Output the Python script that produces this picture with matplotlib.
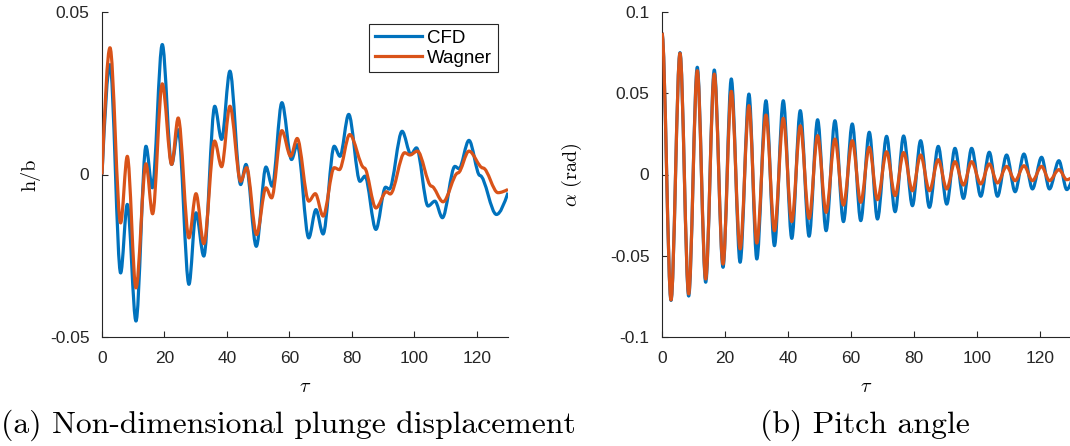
import matplotlib
matplotlib.use("Agg")
import matplotlib.pyplot as plt
from matplotlib.path import Path
from matplotlib.patches import PathPatch
from matplotlib.lines import Line2D

# MATLAB default colours
CFD_COLOR = "#0072BD"
WAGNER_COLOR = "#D95319"
AX_COLOR = "#262626"

# (a) plunge h/b: local extrema / shoulders
h_cfd_tau = [0, 2.56, 5.97, 8.1, 10.88, 14.08, 16.1, 19.3, 22.3, 24.4, 27.84, 30.1,
             32.6, 36.1, 38.3, 40.96, 44.4, 46.1, 49.4, 52.5, 54.5, 57.6, 60.7, 62.5,
             66.2, 68.5, 70.8, 74.35, 76.2, 79.0, 82.6, 84.2, 87.7, 90.8, 92.0, 96.1,
             98.9, 100.7, 104.4, 106.6, 109.0, 113.0, 114.3, 117.5, 121.0, 126.3, 130]
h_cfd = [0, 0.0338, -0.0303, -0.0092, -0.0451, 0.0087, -0.0041, 0.0400, 0.0031, 0.0138,
         -0.0338, -0.0118, -0.0251, 0.0210, 0.0108, 0.0318, -0.0031, 0.0031, -0.0221,
         0.0023, -0.0036, 0.0221, 0.0046, 0.0092, -0.0195, -0.0108, -0.0183, 0.0087,
         0.0056, 0.0185, -0.0021, -0.0005, -0.0169, -0.0039, -0.0045, 0.0133, 0.0062,
         0.0082, -0.0097, -0.0082, -0.0133, 0.0025, 0.0018, 0.0105, -0.0003, -0.0123,
         -0.0056]

h_wag_tau = [0, 2.56, 5.97, 8.1, 10.88, 14.08, 16.2, 19.3, 22.3, 24.4, 27.84, 30.1,
             32.6, 36.05, 38.3, 40.96, 44.4, 46.3, 49.5, 52.5, 54.3, 57.6, 60.4, 62.5,
             66.2, 68.3, 70.8, 74.35, 76.0, 79.3, 84.0, 87.7, 91.1, 92.3, 96.9, 98.6,
             101.0, 105.5, 109.2, 114.0, 117.5, 122.0, 126.8, 130]
h_wag = [0, 0.0390, -0.0149, 0.0056, -0.0349, 0.0033, -0.0121, 0.0279, 0.0031, 0.0174,
         -0.0195, -0.0059, -0.0213, 0.0103, 0.0024, 0.0210, -0.0021, 0.0021, -0.0185,
         -0.0041, -0.0072, 0.0135, 0.0056, 0.0111, -0.0082, -0.0059, -0.0128, 0.0021,
         0.0015, 0.0123, 0.0020, -0.0103, -0.0053, -0.0060, 0.0067, 0.0060, 0.0072,
         -0.0036, -0.0084, 0.0005, 0.0072, 0.0020, -0.0056, -0.0046]

# (b) pitch alpha: peaks and troughs
a_tau = [0, 2.86, 5.71, 8.47, 11.2, 13.87, 16.6, 19.37, 22.0, 24.8, 27.6, 30.1, 33.0,
         35.7, 38.5, 41.2, 43.9, 46.7, 49.4, 52.1, 54.9, 57.6, 60.4, 63.1, 65.8, 68.4,
         71.3, 74.0, 76.7, 79.5, 82.1, 84.9, 87.7, 90.4, 93.0, 95.7, 98.3, 101.2,
         103.9, 106.5, 109.4, 112.1, 114.9, 117.6, 120.5, 123.0, 126.0, 128.5, 130]
a_cfd = [0.087, -0.0775, 0.075, -0.0748, 0.066, -0.0663, 0.0643, -0.0571, 0.0588,
         -0.054, 0.0495, -0.052, 0.0454, -0.0438, 0.0454, -0.0393, 0.0393, -0.038,
         0.0337, -0.0346, 0.0331, -0.029, 0.0311, -0.0284, 0.026, -0.0274, 0.0235,
         -0.0229, 0.0237, -0.0192, 0.0208, -0.0202, 0.0173, -0.0182, 0.0161, -0.0147,
         0.0161, -0.0134, 0.0137, -0.0134, 0.012, -0.0106, 0.0126, -0.0089, 0.0106,
         -0.0089, 0.0085, -0.0093, -0.004]
a_wag = [0.087, -0.0772, 0.0746, -0.0735, 0.0639, -0.0643, 0.0618, -0.0551, 0.0512,
         -0.0458, 0.0424, -0.0422, 0.0366, -0.0346, 0.0346, -0.029, 0.030, -0.027,
         0.0239, -0.0233, 0.0218, -0.0188, 0.0208, -0.0171, 0.0167, -0.0155, 0.014,
         -0.013, 0.0135, -0.010, 0.012, -0.010, 0.0091, -0.0089, 0.0079, -0.0065,
         0.0079, -0.0058, 0.0065, -0.0052, 0.005, -0.0038, 0.0054, -0.0038, 0.005,
         -0.0038, 0.003, -0.0032, -0.002]

x_ticks = [0, 20, 40, 60, 80, 100, 120]
h_ticks = [-0.05, 0, 0.05]
h_tick_labels = ["-0.05", "0", "0.05"]
a_ticks = [-0.1, -0.05, 0, 0.05, 0.1]
a_tick_labels = ["-0.1", "-0.05", "0", "0.05", "0.1"]


def smooth_path(t, v, free_start=True, free_end=True):
    # cubic segments with flat tangents at the read extrema
    verts = [(t[0], v[0])]
    codes = [Path.MOVETO]
    n = len(t)
    for i in range(n - 1):
        dt = t[i + 1] - t[i]
        dv = v[i + 1] - v[i]
        k1 = 0.5 if (i == 0 and free_start) else 0.0
        k2 = 0.5 if (i == n - 2 and free_end) else 0.0
        verts += [(t[i] + dt / 3, v[i] + k1 * dv),
                  (t[i + 1] - dt / 3, v[i + 1] - k2 * dv),
                  (t[i + 1], v[i + 1])]
        codes += [Path.CURVE4] * 3
    return Path(verts, codes)


def draw(ax, t, v, color, free_start, z):
    ax.add_patch(PathPatch(smooth_path(t, v, free_start), fill=False,
                           edgecolor=color, lw=2.3, joinstyle="round", zorder=z))


def style(ax):
    for s in ["top", "right"]:
        ax.spines[s].set_visible(False)
    for s in ["left", "bottom"]:
        ax.spines[s].set_color(AX_COLOR)
        ax.spines[s].set_linewidth(0.8)
    ax.tick_params(direction="in", length=4, width=0.8, colors=AX_COLOR,
                   labelsize=12.5)
    ax.tick_params(axis="y", pad=9)
    ax.tick_params(axis="x", pad=10)
    for lab in ax.get_xticklabels() + ax.get_yticklabels():
        lab.set_family("Liberation Sans")


plt.rcParams["mathtext.fontset"] = "cm"
fig = plt.figure(figsize=(10.7, 4.46), dpi=100)

ax1 = fig.add_axes([102 / 1070, 109 / 446, 406 / 1070, 325 / 446])
draw(ax1, h_cfd_tau, h_cfd, CFD_COLOR, True, 2)
draw(ax1, h_wag_tau, h_wag, WAGNER_COLOR, True, 3)
ax1.set_xlim(0, 130)
ax1.set_ylim(-0.05, 0.05)
ax1.set_xticks(x_ticks)
ax1.set_yticks(h_ticks)
ax1.set_yticklabels(h_tick_labels)
style(ax1)
handles = [Line2D([], [], color=CFD_COLOR, lw=2.3),
           Line2D([], [], color=WAGNER_COLOR, lw=2.3)]
leg = ax1.legend(handles, ["CFD", "Wagner"], loc="upper right",
                 bbox_to_anchor=(0.975, 0.963), borderaxespad=0, fancybox=False,
                 framealpha=1, edgecolor=AX_COLOR, handlelength=2.5,
                 handletextpad=0.3, borderpad=0.3, labelspacing=0.15,
                 prop={"family": "Liberation Sans", "size": 13.5})
leg.get_frame().set_linewidth(0.8)

ax2 = fig.add_axes([662 / 1070, 109 / 446, 409.5 / 1070, 325 / 446])
draw(ax2, a_tau, a_cfd, CFD_COLOR, False, 2)
draw(ax2, a_tau, a_wag, WAGNER_COLOR, False, 3)
ax2.set_xlim(0, 130)
ax2.set_ylim(-0.1, 0.1)
ax2.set_xticks(x_ticks)
ax2.set_yticks(a_ticks)
ax2.set_yticklabels(a_tick_labels)
style(ax2)

fig.text(30 / 1070, 1 - 175 / 446, "h/b", rotation=90, ha="center", va="center",
         family="cmr10", fontsize=14.5)
fig.text(572 / 1070, 1 - 175 / 446, r"$\alpha$ (rad)", rotation=90, ha="center",
         va="center", family="cmr10", fontsize=14.5)
fig.text(305 / 1070, 1 - 386 / 446, r"$\tau$", ha="center", va="center", fontsize=14.5)
fig.text(866 / 1070, 1 - 386 / 446, r"$\tau$", ha="center", va="center", fontsize=14.5)
fig.text(1 / 1070, 1 - 425 / 446, "(a) Non-dimensional plunge displacement",
         ha="left", va="center", family="cmr10", fontsize=22.8)
fig.text(865 / 1070, 1 - 425 / 446, "(b) Pitch angle", ha="center", va="center",
         family="cmr10", fontsize=22.8)

fig.savefig("out.png", dpi=100)
